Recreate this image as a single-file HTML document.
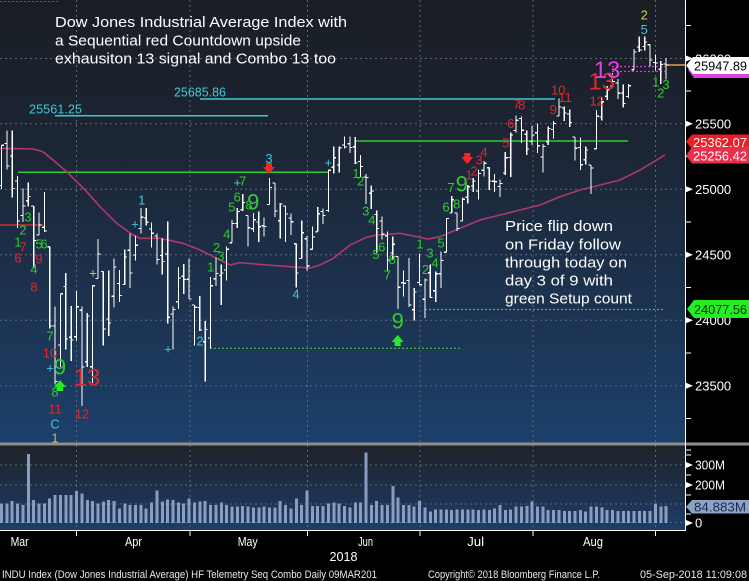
<!DOCTYPE html>
<html><head><meta charset="utf-8"><style>
html,body{margin:0;padding:0;background:#000;width:749px;height:581px;overflow:hidden}
svg{display:block;font-family:"Liberation Sans",Arial,sans-serif}
</style></head><body>
<svg width="749" height="581" viewBox="0 0 749 581" xmlns="http://www.w3.org/2000/svg">
<defs>
<linearGradient id="gm" x1="0" y1="0" x2="0" y2="1">
<stop offset="0" stop-color="#1a1d24"/><stop offset="0.35" stop-color="#1c2636"/><stop offset="0.7" stop-color="#1c3351"/><stop offset="1" stop-color="#1c406b"/></linearGradient>
<linearGradient id="gv" x1="0" y1="0" x2="0" y2="1">
<stop offset="0" stop-color="#1f2228"/><stop offset="0.5" stop-color="#1e2f48"/><stop offset="1" stop-color="#1d3e68"/></linearGradient>
</defs>
<rect width="749" height="581" fill="#000"/>
<rect x="0" y="0" width="685" height="443" fill="url(#gm)"/>
<rect x="0" y="445" width="685" height="85" fill="url(#gv)"/>
<!-- grid -->
<g stroke="#5f6878" stroke-width="1" stroke-dasharray="2,3" fill="none">
<path d="M0 58.5H685M0 123.8H685M0 189.3H685M0 254.8H685M0 320.3H685M0 385.8H685"/>
<path d="M76.5 0V443M190 0V443M307.5 0V443M420 0V443M533 0V443M655.5 0V443"/>
<path d="M0 465H685M0 485H685M0 504H685M0 522.5H685"/>
<path d="M76.5 445V530M190 445V530M307.5 445V530M420 445V530M533 445V530M655.5 445V530"/>
</g>
<path d="M0 1.5H60" stroke="#c03040" stroke-dasharray="2,2"/>
<!-- volume bars -->
<path transform="translate(1.5,0) scale(5.36,1)" vector-effect="non-scaling-stroke" shape-rendering="crispEdges" stroke="#8a9cc0" stroke-width="3" fill="none" d="M0 523V503.3M1 523V503.3M2 523V501M3 523V503.3M4 523V505M5 523V454M6 523V500M7 523V503.3M8 523V503.3M9 523V498.3M10 523V495M11 523V495M12 523V495M13 523V495M14 523V491M15 523V493.3M16 523V500M17 523V501M18 523V503.3M19 523V501.7M20 523V500M21 523V501M22 523V508.3M23 523V503.3M24 523V505M25 523V505M26 523V505M27 523V508.3M28 523V502.7M29 523V490.7M30 523V501.7M31 523V499.3M32 523V500M33 523V502.7M34 523V503.3M35 523V498.3M36 523V502.7M37 523V501.7M38 523V501M39 523V505M40 523V505M41 523V502.7M42 523V505M43 523V506.7M44 523V506.7M45 523V506M46 523V506.7M47 523V507.7M48 523V507.7M49 523V506.7M50 523V507.7M51 523V507.7M52 523V501M53 523V505M54 523V508.3M55 523V498.3M56 523V505M57 523V490.7M58 523V506M59 523V506M60 523V506M61 523V503.3M62 523V502.7M63 523V503.3M64 523V506M65 523V507.7M66 523V502.7M67 523V502.7M68 523V452.7M69 523V505M70 523V501M71 523V505M72 523V505M73 523V486M74 523V497.7M75 523V505M76 523V505M77 523V506.7M78 523V501M79 523V507.7M80 523V511.7M81 523V509.3M82 523V509.3M83 523V509.3M84 523V510M85 523V509.3M86 523V509.3M87 523V509.3M88 523V509.3M89 523V510M90 523V509.3M91 523V510M92 523V508.3M93 523V505M94 523V510M95 523V509.3M96 523V506.7M97 523V506.7M98 523V506M99 523V501.7M100 523V506.7M101 523V506.7M102 523V510M103 523V510M104 523V510M105 523V511M106 523V511M107 523V511M108 523V510M109 523V511.7M110 523V506.7M111 523V506.7M112 523V507.7M113 523V510M114 523V510M115 523V511M116 523V511M117 523V511M118 523V511M119 523V511M120 523V511M121 523V511M122 523V503.3M123 523V506.7M124 523V506"/>
<!-- level lines -->
<path d="M0 225H43" stroke="#c83030" stroke-width="1.5"/>
<path d="M18 172.3H328M355 141H628" stroke="#2ecc2e" stroke-width="1.5"/>
<path d="M55 115.7H268M200 99H555" stroke="#3cc8d4" stroke-width="1.5"/>
<path d="M425 309.5H665M210 348.3H460" stroke="#2ecc2e" stroke-width="1.2" stroke-dasharray="2,2"/>
<path d="M612 66.5H665M612 71.5H665" stroke="#d040d0" stroke-width="1.2" stroke-dasharray="2,2"/>
<path d="M666 65H686" stroke="#e8a040" stroke-width="1.5"/>
<!-- MA -->
<polyline fill="none" stroke="#b03868" stroke-width="1.6" points="0,148.3 33,149 43,151.7 53,160 66.7,171.7 86.7,191.7 100,206.7 116.7,223.3 133,235 140,238.3 160,238.3 183,243.3 200,250 220,260 230,265 240,262.7 266.7,265 290,266.7 310,268 320,265 333.3,258.3 350,245 366.7,237.3 376.7,235 400,233.3 413.3,236 428,239 440,236.7 460,228.3 480,220 500,215 520,210 540,205 560,196.7 580,190 600,185 620,180 640,170 665,155"/>
<!-- OHLC bars -->
<path transform="translate(1.5,189.3) scale(5.36,-0.131) translate(0,-25000)" vector-effect="non-scaling-stroke" shape-rendering="crispEdges" stroke="#ffffff" stroke-width="1.2" fill="none" d="M0 25336V25002M-.45 25029H0M0 25336H.45M1 25449V25153M.55 25349H1M1 25178H1.45M2 25450V24937M1.55 25254H2M2 25007H2.45M3 25101V24703M2.55 25064H3M3 24759H3.45M4 25008V24752M3.55 24801H4M4 24873H4.45M5 25053V24870M4.55 24912H5M5 24946H5.45M6 24873V24398M5.55 24873H6M6 24610H6.45M7 24821V24652M6.55 24652H7M7 24727H7.45M8 24978V24675M7.55 24711H8M8 24682H8.45M9 24562V23937M8.55 24562H9M9 23957H9.45M10 24105V23509M9.55 23957H10M10 23533H10.45M11 24202V23643M10.55 23811H11M11 24202H11.45M12 24362V23778M11.55 24258H12M12 23857H12.45M13 24111V23690M12.55 23870H13M13 23849H13.45M14 24225V23845M13.55 23875H14M14 24103H14.45M15 24107V23344M14.55 24076H15M15 23644H15.45M16 24055V23643M15.55 23684H16M16 24033H16.45M17 24264V23523M16.55 23645H17M17 24264H17.45M18 24622V24320M17.55 24320H18M18 24505H18.45M19 24374V23808M18.55 24373H19M19 23933H19.45M20 24382V23880M19.55 24010H20M20 23979H20.45M21 24471V24098M20.55 24183H21M21 24408H21.45M22 24383V24138M21.55 24281H22M22 24189H22.45M23 24541V24274M22.55 24274H23M23 24483H23.45M24 24662V24245M23.55 24535H24M24 24360H24.45M25 24646V24458M24.55 24499H25M25 24573H25.45M26 24858V24662M25.55 24700H26M26 24786H26.45M27 24858V24725M26.55 24781H27M27 24748H27.45M28 24748V24555M27.55 24696H28M28 24665H28.45M29 24661V24427M28.55 24643H29M29 24463H29.45M30 24623V24350M29.55 24495H30M30 24448H30.45M31 24753V23974M30.55 24507H31M31 24024H31.45M32 24107V23779M31.55 24048H32M32 24083H32.45M33 24407V24087M32.55 24141H33M33 24322H33.45M34 24430V24200M33.55 24337H34M34 24311H34.45M35 24473V24163M34.55 24313H35M35 24163H35.45M36 24117V23808M35.55 24117H36M36 24100H36.45M37 24185V23917M36.55 24097H37M37 23925H37.45M38 23996V23531M37.55 23836H38M38 23930H38.45M39 24330V23785M38.55 23866H39M39 24263H39.45M40 24479V24263M39.55 24317H40M40 24357H40.45M41 24425V24115M40.55 24342H41M41 24361H41.45M42 24564V24305M41.55 24385H42M42 24542H42.45M43 24766V24592M42.55 24592H43M43 24740H43.45M44 24858V24704M43.55 24739H44M44 24831H44.45M45 24964V24834M44.55 24844H45M45 24899H45.45M46 24801V24564M45.55 24801H46M46 24706H46.45M47 24820V24674M46.55 24699H47M47 24768H47.45M48 24829V24598M47.55 24751H48M48 24714H48.45M49 24786V24640M48.55 24721H49M49 24715H49.45M50 25086V24883M49.55 24883H50M50 25013H50.45M51 25047V24787M50.55 25047H51M51 24835H51.45M52 24894V24626M51.55 24760H52M52 24887H52.45M53 24872V24599M52.55 24872H53M53 24811H53.45M54 24814V24652M53.55 24781H54M54 24753H54.45M55 24584V24252M54.55 24584H55M55 24362H55.45M56 24761V24471M55.55 24471H56M56 24668H56.45M57 24643V24379M56.55 24622H57M57 24416H57.45M58 24716V24542M57.55 24542H58M58 24635H58.45M59 24863V24676M58.55 24676H59M59 24814H59.45M60 24855V24735M59.55 24831H60M60 24800H60.45M61 25151V24828M60.55 24838H61M61 25146H61.45M62 25326V25121M61.55 25169H62M62 25241H62.45M63 25327V25127M62.55 25185H63M63 25317H63.45M64 25403V25311M63.55 25339H64M64 25322H64.45M65 25402V25279M64.55 25348H65M65 25320H65.45M66 25400V25195M65.55 25325H66M66 25201H66.45M67 25261V25092M66.55 25213H67M67 25175H67.45M68 25116V24889M67.55 25094H68M68 25090H68.45M69 25029V24850M68.55 24970H69M69 24988H69.45M70 24837V24519M69.55 24807H70M70 24700H70.45M71 24791V24618M70.55 24757H71M71 24657H71.45M72 24677V24377M71.55 24646H72M72 24461H72.45M73 24641V24459M72.55 24514H73M73 24580H73.45M74 24488V24085M73.55 24487H74M74 24252H74.45M75 24380V24180M74.55 24287H75M75 24283H75.45M76 24477V24101M75.55 24304H76M76 24117H76.45M77 24247V23997M76.55 24080H77M77 24216H77.45M78 24509V24271M77.55 24289H78M78 24271H78.45M79 24318V24016M78.55 24161H79M79 24307H79.45M80 24427V24171M79.55 24363H80M80 24174H80.45M81 24372V24139M80.55 24226H81M81 24356H81.45M82 24525V24246M81.55 24356H82M82 24456H82.45M83 24781V24520M82.55 24520H83M83 24776H83.45M84 24947V24819M83.55 24819H84M84 24920H84.45M85 24819V24681M84.55 24819H85M85 24700H85.45M86 24938V24758M85.55 24758H86M86 24924H86.45M87 25032V24890M86.55 24940H87M87 25019H87.45M88 25087V24980M87.55 25025H88M88 25064H88.45M89 25152V24924M88.55 24988H89M89 25120H89.45M90 25215V25096M89.55 25146H90M90 25199H90.45M91 25165V24995M90.55 25165H91M91 25064H91.45M92 25116V24980M91.55 25062H92M92 25058H92.45M93 25074V24941M92.55 25021H93M93 25044H93.45M94 25283V25109M93.55 25125H94M94 25241H94.45M95 25433V25093M94.55 25243H95M95 25414H95.45M96 25562V25433M95.55 25448H96M96 25527H96.45M97 25555V25354M96.55 25540H97M97 25451H97.45M98 25450V25262M97.55 25420H98M98 25307H98.45M99 25485V25339M98.55 25366H99M99 25415H99.45M100 25504V25278M99.55 25431H100M100 25333H100.45M101 25347V25130M100.55 25246H101M101 25326H101.45M102 25479V25337M101.55 25363H102M102 25463H102.45M103 25522V25388M102.55 25456H103M103 25502H103.45M104 25692V25559M103.55 25559H104M104 25629H104.45M105 25633V25521M104.55 25620H105M105 25583H105.45M106 25610V25477M105.55 25575H106M106 25509H106.45M107 25400V25221M106.55 25400H107M107 25313H107.45M108 25396V25148M107.55 25319H108M108 25187H108.45M109 25326V25188M108.55 25225H109M109 25299H109.45M110 25186V24965M109.55 25186H110M110 25162H110.45M111 25605V25309M110.55 25309H111M111 25558H111.45M112 25706V25524M111.55 25551H112M112 25669H112.45M113 25790V25683M112.55 25710H113M113 25758H113.45M114 25888V25784M113.55 25788H114M114 25822H114.45M115 25843V25690M114.55 25812H115M115 25733H115.45M116 25800V25624M115.55 25734H116M116 25656H116.45M117 25802V25698M116.55 25709H117M117 25790H117.45M118 26071V25913M117.55 25913H118M118 26049H118.45M119 26167V26048M118.55 26087H119M119 26064H119.45M120 26168V26059M119.55 26089H120M120 26124H120.45M121 26104V25939M120.55 26104H121M121 25986H121.45M122 26030V25906M121.55 25967H122M122 25964H122.45M123 25979V25804M122.55 25916H123M123 25952H123.45M124 26001V25838M123.55 25957H124M124 25948H124.45"/>
<!-- arrows -->
<polygon fill="#ff2020" points="266,163 272,163 272,167 275,167 269,174 263,167 266,167"/>
<polygon fill="#ff2020" points="464.3,153 470.3,153 470.3,157 473.3,157 467.3,164 461.3,157 464.3,157"/>
<polygon fill="#22ee22" points="57,391 63,391 63,387 66,387 60,380 54,387 57,387"/>
<polygon fill="#22ee22" points="394.7,346 400.7,346 400.7,342 403.7,342 397.7,335 391.7,342 394.7,342"/>
<!-- count labels -->
<g font-size="13" text-anchor="middle" fill="#2ecc2e">
<text x="18" y="246.4">1</text><text x="23" y="234.7">2</text><text x="28" y="221.4">3</text><text x="34" y="273.7">4</text><text x="39" y="248.7">5</text><text x="44" y="248.7">6</text><text x="50" y="340.7">7</text><text x="55" y="396.4">8</text>
<text x="210.7" y="271.4">1</text><text x="216.5" y="252.2">2</text><text x="221" y="260.7">3</text><text x="226.7" y="238.7">4</text><text x="231.7" y="211.4">5</text><text x="237.3" y="201.4">6</text><text x="242.7" y="185.4">7</text><text x="249" y="209.7">8</text>
<text x="356" y="178">1</text><text x="360.7" y="185.4">2</text><text x="365.7" y="215.4">3</text><text x="371.7" y="224.7">4</text><text x="376" y="259">5</text><text x="381.7" y="251.4">6</text><text x="387.3" y="279.7">7</text><text x="392.3" y="264">8</text>
<text x="420" y="248.7">1</text><text x="425.5" y="274">2</text><text x="430" y="257.4">3</text><text x="435" y="267.4">4</text><text x="441" y="247.4">5</text><text x="446" y="211.4">6</text><text x="451" y="192">7</text><text x="456.7" y="208.7">8</text>
<text x="655.7" y="86.4">1</text><text x="666" y="89">3</text><text x="660.7" y="97.4">2</text>
</g>
<g font-size="22" text-anchor="middle" fill="#2ecc2e">
<text x="60" y="374.7">9</text><text x="253.3" y="209.7">9</text><text x="397.7" y="328.7">9</text><text x="461.7" y="191.3">9</text>
</g>
<g font-size="13" text-anchor="middle" fill="#e0282c">
<text x="18" y="262.7">6</text><text x="23" y="251.4">7</text><text x="34" y="291.4">8</text><text x="39" y="263.7">9</text><text x="50" y="357.4">10</text><text x="55" y="413.7">11</text><text x="82" y="418.7">12</text>
<text x="469" y="179.7">1</text><text x="474" y="175.4">2</text><text x="479" y="164.7">3</text><text x="484" y="156.4">4</text><text x="505.7" y="147.4">5</text><text x="510.7" y="128">6</text><text x="516.7" y="108.7">7</text><text x="521.7" y="109.7">8</text><text x="553.3" y="114">9</text><text x="558.3" y="94.7">10</text><text x="565" y="102.2">11</text><text x="596.7" y="105.7">12</text>
</g>
<g font-size="24" text-anchor="middle">
<text x="87" y="385.5" fill="#e0282c">13</text>
<text x="601.7" y="89.5" fill="#e0282c">13</text>
<text x="607" y="78" fill="#e040e0">13</text>
</g>
<g font-size="13" text-anchor="middle" fill="#3cc8dc">
<text x="50" y="372.7">+</text><text x="135" y="228.7">+</text><text x="141.7" y="204.7">1</text><text x="168" y="353.7">+</text><text x="200" y="345.7">2</text><text x="237.3" y="187">+</text><text x="269" y="163">3</text><text x="296" y="298.7">4</text><text x="328.3" y="167">+</text><text x="644.3" y="34">5</text><text x="55" y="428.7">C</text>
</g>
<g font-size="13" text-anchor="middle" fill="#e0cc44">
<text x="93" y="277.4">+</text><text x="644.3" y="19.7">2</text><text x="55" y="442.5" fill="#c8b850">1</text>
</g>
<!-- level labels -->
<g font-size="13" fill="#3cc8d4">
<text x="29" y="113.5" textLength="53" lengthAdjust="spacingAndGlyphs">25561.25</text>
<text x="174" y="96.5" textLength="52" lengthAdjust="spacingAndGlyphs">25685.86</text>
</g>
<!-- annotations -->
<g font-size="15" fill="#ffffff">
<text x="55" y="27" textLength="292" lengthAdjust="spacingAndGlyphs">Dow Jones Industrial Average Index with</text>
<text x="55" y="45.5" textLength="246" lengthAdjust="spacingAndGlyphs">a Sequential red Countdown upside</text>
<text x="55" y="63.5" textLength="281" lengthAdjust="spacingAndGlyphs">exhausiton 13 signal and Combo 13 too</text>
<text x="505" y="231" textLength="108" lengthAdjust="spacingAndGlyphs">Price flip down</text>
<text x="505" y="249.3" textLength="116" lengthAdjust="spacingAndGlyphs">on Friday follow</text>
<text x="505" y="267.6" textLength="122" lengthAdjust="spacingAndGlyphs">through today on</text>
<text x="505" y="285.4" textLength="108" lengthAdjust="spacingAndGlyphs">day 3 of 9 with</text>
<text x="505" y="303.7" textLength="127" lengthAdjust="spacingAndGlyphs">green Setup count</text>
</g>
<!-- separator & axes -->
<rect x="0" y="442.5" width="749" height="3" fill="#8e8e8e"/>
<path d="M685.5 0V530.5M0 530.5H686" stroke="#ffffff" stroke-width="1"/>
<g fill="#ffffff">
<polygon points="686,55.5 693,58.5 686,61.5"/><polygon points="686,120.8 693,123.8 686,126.8"/><polygon points="686,186.3 693,189.3 686,192.3"/><polygon points="686,251.8 693,254.8 686,257.8"/><polygon points="686,317.3 693,320.3 686,323.3"/><polygon points="686,382.8 693,385.8 686,388.8"/>
<polygon points="686,462 693,465 686,468"/><polygon points="686,482 693,485 686,488"/><polygon points="686,520 693,523 686,526"/>
</g>
<path d="M686 25.5H691M686 91H691M686 156.5H691M686 222H691M686 287.5H691M686 353H691M686 418.5H691M686 450H691M686 455H691M686 475H691M686 495H691M686 514H691" stroke="#ffffff"/>
<g font-size="13" fill="#ffffff">
<text x="695" y="63.5">26000</text>
<text x="695" y="128.5">25500</text>
<text x="695" y="194">25000</text>
<text x="695" y="259.5">24500</text>
<text x="695" y="325">24000</text>
<text x="695" y="390.5">23500</text>
<text x="695" y="469.5" textLength="30" lengthAdjust="spacingAndGlyphs">300M</text>
<text x="695" y="489.5" textLength="30" lengthAdjust="spacingAndGlyphs">200M</text>
<text x="695" y="527.5">0</text>
</g>
<!-- price label boxes -->
<polygon fill="#e040e0" points="688,70 694,62 749,62 749,78 694,78"/>
<polygon fill="#ffffff" points="686,65.5 693,57 749,57 749,74 693,74"/>
<text x="694" y="70.5" font-size="13" fill="#000" textLength="53" lengthAdjust="spacingAndGlyphs">25947.89</text>
<polygon fill="#ee1c24" points="686,141.5 692,134.5 749,134.5 749,149 692,149"/>
<text x="693" y="147" font-size="13" fill="#ffffff" textLength="54" lengthAdjust="spacingAndGlyphs">25362.07</text>
<polygon fill="#e8304c" points="686,155.5 692,147 749,147 749,163.5 692,163.5"/>
<text x="693" y="160.5" font-size="13" fill="#ffffff" textLength="54" lengthAdjust="spacingAndGlyphs">25256.42</text>
<polygon fill="#22ee22" points="687,309 694,300 749,300 749,318 694,318"/>
<text x="694" y="314" font-size="13" fill="#0a2a0a" textLength="53" lengthAdjust="spacingAndGlyphs">24077.56</text>
<polygon fill="#8ea2c6" points="686,506.7 692,500 749,500 749,513.5 692,513.5"/>
<text x="694" y="511.5" font-size="13" fill="#1a2a48" textLength="52" lengthAdjust="spacingAndGlyphs">84.883M</text>
<!-- date axis -->
<path d="M76.5 531V536M190 531V536M307.5 531V536M420 531V536M533 531V536M655.5 531V536" stroke="#ffffff"/>
<g font-size="13" fill="#ffffff" text-anchor="middle">
<text x="19.6" y="546" textLength="18" lengthAdjust="spacingAndGlyphs">Mar</text>
<text x="133.5" y="546" textLength="17" lengthAdjust="spacingAndGlyphs">Apr</text>
<text x="247.7" y="546" textLength="20" lengthAdjust="spacingAndGlyphs">May</text>
<text x="365.5" y="546" textLength="15" lengthAdjust="spacingAndGlyphs">Jun</text>
<text x="475.6" y="546" textLength="17" lengthAdjust="spacingAndGlyphs">Jul</text>
<text x="593" y="546" textLength="20" lengthAdjust="spacingAndGlyphs">Aug</text>
<text x="343.5" y="561" textLength="28" lengthAdjust="spacingAndGlyphs">2018</text>
</g>
<g font-size="11" fill="#e8e8e8">
<text x="2" y="578" textLength="375" lengthAdjust="spacingAndGlyphs">INDU Index (Dow Jones Industrial Average) HF Telemetry Seq Combo  Daily 09MAR201</text>
<text x="428" y="578" textLength="172" lengthAdjust="spacingAndGlyphs">Copyright© 2018 Bloomberg Finance L.P.</text>
<text x="640" y="578" textLength="107" lengthAdjust="spacingAndGlyphs">05-Sep-2018 11:09:08</text>
</g>
</svg>
</body></html>
